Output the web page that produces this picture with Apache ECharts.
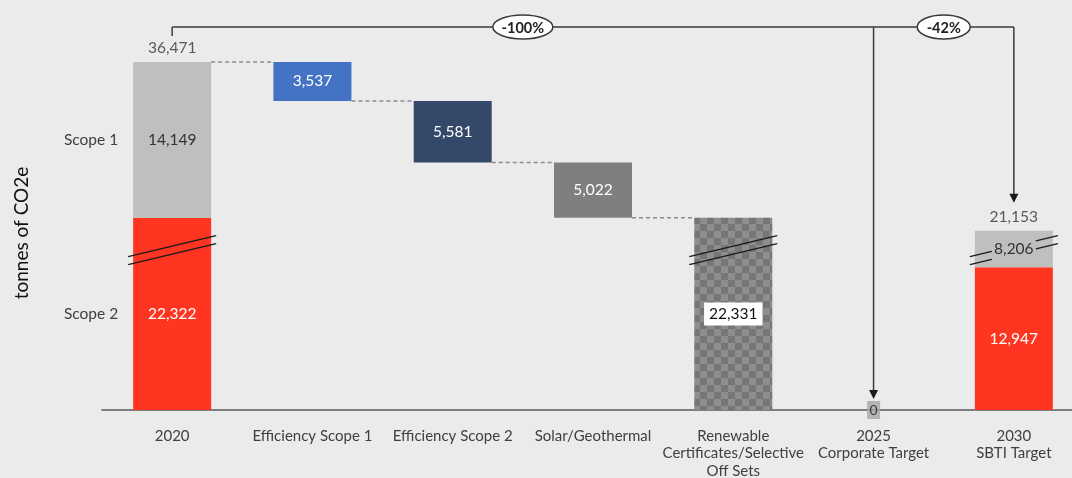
<!DOCTYPE html>
<html><head><meta charset="utf-8">
<script src="https://cdn.jsdelivr.net/npm/echarts@6/dist/echarts.min.js"></script>
<style>html,body{margin:0;padding:0;background:#EBEBEB}#c{width:1072px;height:478px}</style>
</head><body><div id="c"></div>
<script>
// ---------------- data ----------------
const categories = ['2020', 'Efficiency Scope 1', 'Efficiency Scope 2', 'Solar/Geothermal',
  'Renewable\nCertificates/Selective\nOff Sets', '2025\nCorporate Target', '2030\nSBTI Target'];
const scope2Values = [22322, null, null, null, null, null, 12947];
const scope1Values = [14149, null, null, null, null, null, 8206];
const reductionValues = [null, 3537, 5581, 5022, 22331, null, null];
const totalValues = [36471, null, null, null, null, 0, 21153];
const scopeNames = ['Scope 1', 'Scope 2'];
const axisBreak = [14500, 19400];
const yMax = 40000;

// ---------------- derived / style ----------------
const FONT = 'Lato, "Open Sans", sans-serif';
const BAR_RATIO = 0.556;
const baseValues = [];
const connectorData = [];
let level = totalValues[0];
categories.forEach((c, i) => {
  if (reductionValues[i] != null) {
    connectorData.push([i - 1, level]);
    level -= reductionValues[i];
    baseValues.push(level);
  } else baseValues.push(null);
});
const reductionColors = [null, '#4472C4', '#34496A', '#7F7F7F', null, null, null];
const pc = document.createElement('canvas');
pc.width = 14; pc.height = 14;
const pctx = pc.getContext('2d');
pctx.fillStyle = '#8E8E8E'; pctx.fillRect(0, 0, 14, 14);
pctx.fillStyle = '#767676'; pctx.fillRect(0, 0, 7, 7); pctx.fillRect(7, 7, 7, 7);
reductionColors[4] = { image: pc, repeat: 'repeat' };

const lastIdx = categories.length - 1;
const zeroIdx = totalValues.findIndex((v, i) => i > 0 && v === 0);
const pct = v => Math.round((v - totalValues[0]) / totalValues[0] * 100) + '%';
const fmt = v => v.toLocaleString('en-US');
// bars whose value crosses the axis break get break marks; leave room for a label sitting on it
const breakBars = categories.map((c, i) => i).filter(i => {
  const top = (scope2Values[i] || 0) + (scope1Values[i] || 0) + (reductionValues[i] || 0);
  return top > axisBreak[1] && (baseValues[i] || 0) < axisBreak[0];
});
const breakLabelGap = { [lastIdx]: 22 };

const chart = echarts.init(document.getElementById('c'), null, { renderer: 'canvas' });

const labelBase = { fontFamily: FONT, fontSize: 15.5 };

chart.setOption({
  backgroundColor: '#EBEBEB',
  animation: false,
  grid: { left: 102, width: 982, top: 23, bottom: 68, outerBoundsMode: 'none', containLabel: false },
  xAxis: {
    type: 'category', data: categories,
    axisLine: { lineStyle: { color: '#595959', width: 1.5 } },
    axisTick: { show: false },
    axisLabel: { interval: 0, margin: 17, color: '#404040', fontFamily: FONT, fontSize: 15, lineHeight: 17.5 }
  },
  yAxis: {
    type: 'value', min: 0, max: yMax,
    breaks: [{ start: axisBreak[0], end: axisBreak[1], gap: 0 }],
    breakArea: { show: false },
    axisLine: { show: false }, axisTick: { show: false }, axisLabel: { show: false }, splitLine: { show: false }
  },
  graphic: [{
    type: 'text', x: 22, y: 233, rotation: Math.PI / 2,
    style: { text: 'tonnes of CO2e', fontFamily: FONT, fontSize: 19, fill: '#111', align: 'center', verticalAlign: 'middle' }
  }],
  series: [
    { name: 'base', type: 'bar', stack: 'w', barWidth: (BAR_RATIO * 100) + '%', data: baseValues,
      itemStyle: { color: 'transparent' }, silent: true },
    { name: 'Scope 2', type: 'bar', stack: 'w', data: scope2Values,
      itemStyle: { color: '#FF3521' },
      label: { show: true, position: 'inside', color: '#fff', ...labelBase, formatter: p => fmt(p.value) } },
    { name: 'Scope 1', type: 'bar', stack: 'w', data: scope1Values,
      itemStyle: { color: '#BFBFBF' },
      label: { show: true, position: 'inside', color: '#333', ...labelBase, formatter: p => fmt(p.value) } },
    { name: 'Reduction', type: 'bar', stack: 'w',
      data: reductionValues.map((v, i) => v == null ? null : {
        value: v, itemStyle: { color: reductionColors[i] },
        label: i === 4 ? { backgroundColor: '#fff', color: '#111', padding: [4, 5, 3, 5] } : {}
      }),
      label: { show: true, position: 'inside', color: '#fff', ...labelBase, formatter: p => fmt(p.value) } },
    { name: 'Connectors', type: 'custom', z: 3, data: connectorData,
      renderItem: (params, api) => {
        const i = api.value(0), v = api.value(1);
        const hw = api.size([1, 0])[0] * BAR_RATIO / 2;
        const a = api.coord([i, v]), b = api.coord([i + 1, v]);
        return { type: 'line', shape: { x1: a[0] + hw, y1: a[1], x2: b[0] - hw, y2: b[1] },
          style: { stroke: '#8C8C8C', lineWidth: 1.5, lineDash: [4, 3] } };
      } },
    { name: 'Breaks', type: 'custom', z: 3,
      data: breakBars.map(i => [i, axisBreak[0]]),
      renderItem: (params, api) => {
        const i = api.value(0);
        const c = api.coord([i, api.value(1)]);
        const hw = api.size([1, 0])[0] * BAR_RATIO / 2 + 5;
        const k = 0.24;
        const g = breakLabelGap[i] || 0;
        const seg = (xa, xb, off) => ({ type: 'line',
          shape: { x1: c[0] + xa, y1: c[1] - xa * k + off, x2: c[0] + xb, y2: c[1] - xb * k + off },
          style: { stroke: '#1a1a1a', lineWidth: 1.4 } });
        const children = [];
        [-4, 4].forEach(off => {
          if (g) { children.push(seg(-hw, -g, off), seg(g, hw, off)); }
          else children.push(seg(-hw, hw, off));
        });
        return { type: 'group', children };
      } },
    { name: 'Totals', type: 'scatter', symbolSize: 0, z: 5,
      data: totalValues.map((v, i) => (v ? [i, v] : null)).filter(Boolean),
      label: { show: true, position: 'top', distance: 6, color: '#333', ...labelBase,
        formatter: p => fmt(p.value[1]) } },
    { name: 'Zero', type: 'scatter', symbol: 'rect', symbolSize: [13, 18], z: 5,
      data: totalValues.map((v, i) => (v === 0 ? [i, v] : null)).filter(Boolean),
      itemStyle: { color: '#A6A6A6' },
      label: { show: true, position: 'inside', color: '#222', ...labelBase, fontSize: 14,
        formatter: p => String(p.value[1]) } },
    { name: 'ScopeNames', type: 'custom', z: 3,
      data: [[0, scope2Values[0], scope2Values[0] + scope1Values[0], 0], [0, 0, scope2Values[0], 1]],
      renderItem: (params, api) => {
        const i = api.value(0);
        const a = api.coord([i, api.value(1)]), b = api.coord([i, api.value(2)]);
        const hw = api.size([1, 0])[0] * BAR_RATIO / 2;
        return { type: 'text', x: a[0] - hw - 15, y: (a[1] + b[1]) / 2,
          style: { text: scopeNames[api.value(3)], fontFamily: FONT, fontSize: 15.5, fill: '#404040', align: 'right', verticalAlign: 'middle' } };
      } },
    { name: 'Brackets', type: 'custom', z: 6, data: [[0, yMax]],
      renderItem: (params, api) => {
        const x0 = api.coord([0, 0])[0];
        const xz = api.coord([zeroIdx, 0])[0];
        const xl = api.coord([lastIdx, 0])[0];
        const yb = api.coord([0, yMax])[1] + 4;
        const tipZ = api.coord([zeroIdx, 0])[1] - 11;
        const tipL = api.coord([lastIdx, totalValues[lastIdx]])[1] - 28;
        const st = { stroke: '#3a3a3a', lineWidth: 1.5 };
        const line = (x1, y1, x2, y2) => ({ type: 'line', shape: { x1, y1, x2, y2 }, style: st });
        const arrow = (x, y) => ({ type: 'polygon', shape: { points: [[x - 4.5, y - 9], [x + 4.5, y - 9], [x, y]] }, style: { fill: '#1a1a1a' } });
        const bubble = (cx, rx, txt) => ({ type: 'group', children: [
          { type: 'ellipse', shape: { cx, cy: yb, rx, ry: 12 }, style: { fill: '#fff', stroke: '#3a3a3a', lineWidth: 1.5 } },
          { type: 'text', x: cx, y: yb + 1, style: { text: txt, fontFamily: FONT, fontSize: 14.5, fontWeight: 'bold', fill: '#222', align: 'center', verticalAlign: 'middle' } }
        ] });
        return { type: 'group', children: [
          line(x0, yb, x0, yb + 9),
          line(x0, yb, xl, yb),
          line(xz, yb, xz, tipZ - 8),
          arrow(xz, tipZ),
          line(xl, yb, xl, tipL - 8),
          arrow(xl, tipL),
          bubble((x0 + xz) / 2, 30, pct(totalValues[zeroIdx])),
          bubble((xz + xl) / 2, 26.5, pct(totalValues[lastIdx]))
        ] };
      } }
  ]
});
</script>
</body></html>
